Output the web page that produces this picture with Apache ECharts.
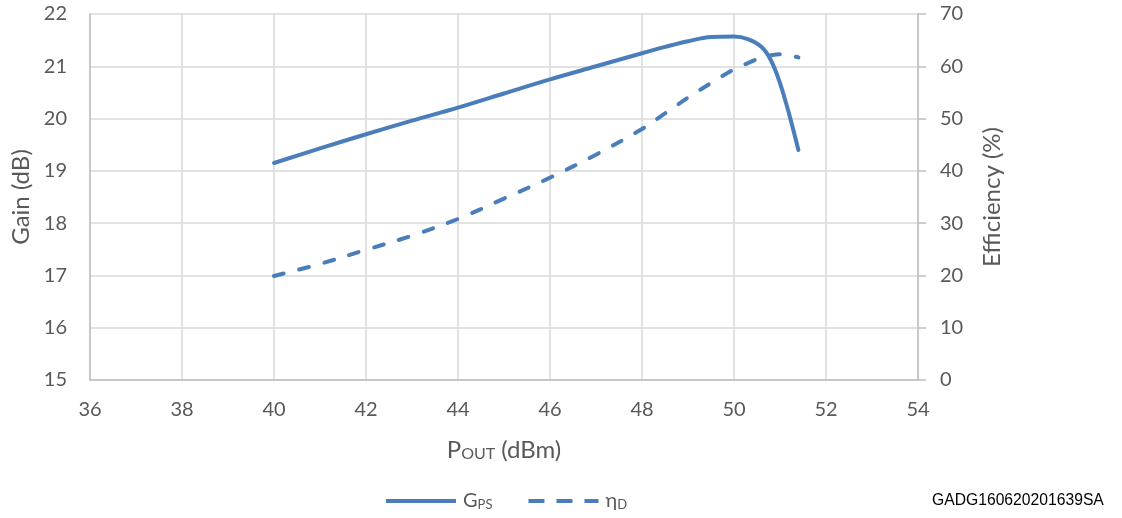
<!DOCTYPE html>
<html>
<head>
<meta charset="utf-8">
<script src="https://cdn.jsdelivr.net/npm/echarts@6/dist/echarts.min.js"></script>
<style>html,body{margin:0;padding:0;background:#fff}#c{width:1122px;height:518px}</style>
</head>
<body>
<div id="c"></div>
<script>
var pout = [40, 41, 42, 43, 44, 45, 46, 47, 48, 48.5, 49, 49.5, 50, 50.3, 50.6, 50.8, 51, 51.2, 51.4];
var gain = [19.15, 19.43, 19.70, 19.96, 20.21, 20.48, 20.75, 21.00, 21.25, 21.37, 21.48, 21.56, 21.57, 21.52, 21.37, 21.12, 20.68, 20.08, 19.40];
var eff = [19.9, 22.2, 24.9, 27.6, 30.8, 34.7, 38.7, 43.1, 48.0, 51.0, 54.0, 56.8, 59.4, 60.6, 61.7, 62.1, 62.3, 62.1, 61.7];
var xTicks = [36, 38, 40, 42, 44, 46, 48, 50, 52, 54];
var gainTicks = [15, 16, 17, 18, 19, 20, 21, 22];
var effTicks = [0, 10, 20, 30, 40, 50, 60, 70];

function pairs(xs, ys) { return xs.map(function (x, i) { return [x, ys[i]]; }); }

var FONT = 'Lato';
var TXT = '#595959';
var BLUE = '#4a7ebb';
var chart = echarts.init(document.getElementById('c'), null, { renderer: 'canvas' });
chart.setOption({
  animation: false,
  grid: { left: 90, right: 204, top: 14, bottom: 138, containLabel: false },
  legend: {
    top: 491, left: 386, padding: 0,
    itemWidth: 70, itemHeight: 4, itemGap: 36,
    data: [
      { name: 'G', icon: 'path://M0,0h70v4h-70z' },
      { name: 'n', icon: 'path://M0,0h16v4h-16z M28,0h16v4h-16z M56,0h14v4h-14z' }
    ],
    formatter: function (n) { return n === 'G' ? '{a|G}{b|PS}' : '{a|η}{b|D}'; },
    textStyle: {
      color: TXT, fontFamily: FONT, fontSize: 20, padding: [0, 0, 0, 2],
      rich: { a: { fontSize: 20, color: TXT, fontFamily: FONT }, b: { fontSize: 13, color: TXT, fontFamily: FONT, padding: [7, 0, 0, 0] } }
    }
  },
  xAxis: {
    type: 'value', min: 36, max: 54, interval: 2,
    name: '{a|P}{b|OUT}{a| (dBm)}', nameLocation: 'middle', nameGap: 58,
    nameTextStyle: { rich: { a: { fontSize: 24, color: TXT, fontFamily: FONT }, b: { fontSize: 16, color: TXT, fontFamily: FONT, padding: [8, 0, 0, 0] } } },
    axisLine: { lineStyle: { color: '#bfbfbf', width: 1.5 } },
    axisTick: { show: false },
    axisLabel: { color: TXT, fontFamily: FONT, fontSize: 20, margin: 20, formatter: function (v) { return xTicks.indexOf(v) >= 0 ? String(v) : ''; } },
    splitLine: { show: true, lineStyle: { color: '#d9d9d9', width: 1.5 } }
  },
  yAxis: [{
    type: 'value', min: 15, max: 22, interval: 1, position: 'left',
    name: 'Gain (dB)', nameLocation: 'middle', nameGap: 54, nameRotate: 90,
    nameTextStyle: { color: TXT, fontFamily: FONT, fontSize: 24 },
    axisLine: { show: true, lineStyle: { color: '#bfbfbf', width: 1.5 } },
    axisTick: { show: false },
    axisLabel: { color: TXT, fontFamily: FONT, fontSize: 20, margin: 23, formatter: function (v) { return gainTicks.indexOf(v) >= 0 ? String(v) : ''; } },
    splitLine: { show: true, lineStyle: { color: '#d9d9d9', width: 1.5 } }
  }, {
    type: 'value', min: 0, max: 70, interval: 10, position: 'right',
    name: 'Efficiency (%)', nameLocation: 'middle', nameGap: 62, nameRotate: 90,
    nameTextStyle: { color: TXT, fontFamily: FONT, fontSize: 24 },
    axisLine: { show: true, lineStyle: { color: '#bfbfbf', width: 1.5 } },
    axisTick: { show: true, length: 8, lineStyle: { color: '#bfbfbf', width: 1.5 } },
    axisLabel: { color: TXT, fontFamily: FONT, fontSize: 20, margin: 22, formatter: function (v) { return effTicks.indexOf(v) >= 0 ? String(v) : ''; } },
    splitLine: { show: false }
  }],
  series: [{
    name: 'G', type: 'line', yAxisIndex: 0, data: pairs(pout, gain),
    smooth: 0.35, symbol: 'none', color: BLUE,
    lineStyle: { color: BLUE, width: 4, cap: 'round' }
  }, {
    name: 'n', type: 'line', yAxisIndex: 1, data: pairs(pout, eff),
    smooth: 0.35, symbol: 'none', color: BLUE,
    lineStyle: { color: BLUE, width: 4, type: [10, 16], cap: 'round' }
  }],
  graphic: [{
    type: 'text', left: 932, top: 493,
    style: { text: 'GADG160620201639SA', font: '15.7px "Liberation Sans"', fill: '#000' }
  }]
});
</script>
</body>
</html>
